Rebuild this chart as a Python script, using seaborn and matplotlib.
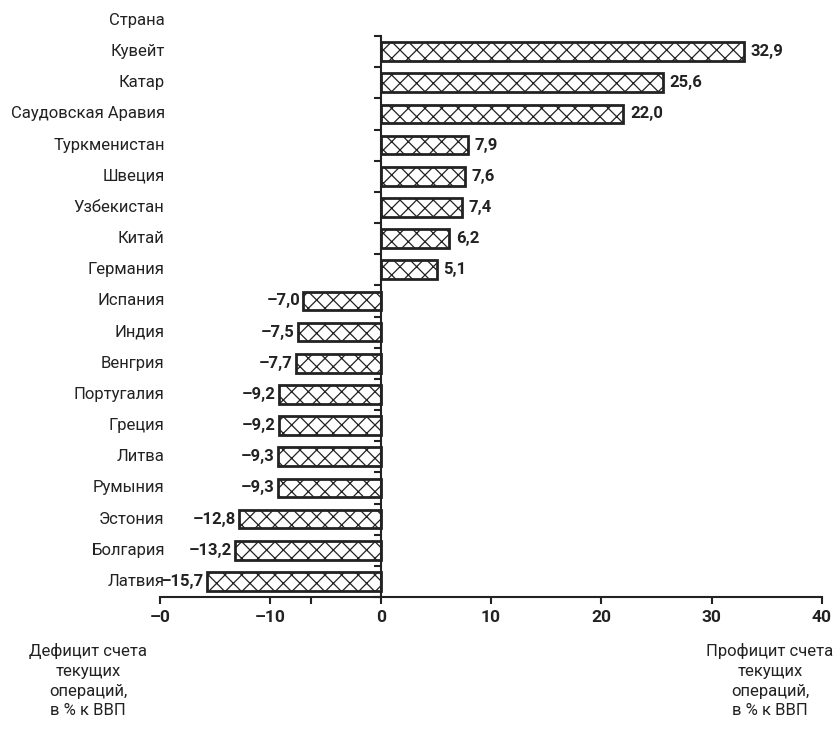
import matplotlib
matplotlib.use("Agg")
import matplotlib.pyplot as plt
import matplotlib.transforms as mtransforms
import seaborn as sns
import pandas as pd

countries = ["Кувейт", "Катар", "Саудовская Аравия", "Туркменистан", "Швеция",
             "Узбекистан", "Китай", "Германия", "Испания", "Индия", "Венгрия",
             "Португалия", "Греция", "Литва", "Румыния", "Эстония", "Болгария", "Латвия"]
values = [32.9, 25.6, 22.0, 7.9, 7.6, 7.4, 6.2, 5.1, -7.0, -7.5, -7.7,
          -9.2, -9.2, -9.3, -9.3, -12.8, -13.2, -15.7]
x_ticks = [-20, -10, 0, 10, 20, 30, 40]
x_tick_labels = ["–0", "–10", "0", "10", "20", "30", "40"]
header = "Страна"
left_note = "Дефицит счета\nтекущих\nопераций,\nв % к ВВП"
right_note = "Профицит счета\nтекущих\nопераций,\nв % к ВВП"

sns.set_style("white")
plt.rcParams["font.family"] = ["Roboto", "DejaVu Sans"]
plt.rcParams["hatch.linewidth"] = 0.9
plt.rcParams["hatch.color"] = "#222222"

df = pd.DataFrame({"country": countries, "value": values})

fig = plt.figure(figsize=(8.36, 7.33), dpi=100)
ax = fig.add_axes([160 / 836, 1 - 597 / 733, 662 / 836, 561 / 733])

sns.barplot(data=df, x="value", y="country", orient="h", color="white",
            edgecolor="#222222", linewidth=2.0, width=0.6, ax=ax,
            saturation=1)
for p in ax.patches:
    p.set_hatch("xx")
    p.set_facecolor("white")

ax.set_xlim(-20, 40)
ax.set_ylim(len(countries) - 0.5, -0.5)

for s in ["top", "right"]:
    ax.spines[s].set_visible(False)
ax.spines["left"].set_position(("data", 0))
for s in ["left", "bottom"]:
    ax.spines[s].set_color("#222222")
    ax.spines[s].set_linewidth(1.5)

ax.set_xticks(x_ticks)
ax.set_xticklabels(x_tick_labels, fontsize=12.5, fontweight="bold", color="#222222")
ax.set_xticks([-6.3], minor=True)
ax.tick_params(axis="x", which="both", direction="out", length=5, width=1.5,
               color="#222222", pad=4, bottom=True)

ax.set_yticks([i - 0.5 for i in range(len(countries) + 1)])
ax.set_yticklabels([])
ax.tick_params(axis="y", direction="out", length=5, width=1.5, color="#222222", left=True)
ax.set_xlabel("")
ax.set_ylabel("")

trans = mtransforms.blended_transform_factory(ax.transAxes, ax.transData)
for i, c in enumerate(countries):
    ax.text(0.007, i, c, transform=trans, ha="right", va="center",
            fontsize=12, color="#222222")
ax.text(0.007, -1, header, transform=trans, ha="right", va="center",
        fontsize=12, color="#222222", clip_on=False)

for i, v in enumerate(values):
    lab = f"{abs(v):.1f}".replace(".", ",")
    if v >= 0:
        ax.text(v + 0.6, i, lab, ha="left", va="center", fontsize=12,
                fontweight="bold", color="#222222")
    else:
        ax.text(v - 0.3, i, "–" + lab, ha="right", va="center", fontsize=12,
                fontweight="bold", color="#222222")

fig.text(88 / 836, 1 - 643 / 733, left_note, ha="center", va="top",
         fontsize=12, color="#222222", linespacing=1.4)
fig.text(770 / 836, 1 - 643 / 733, right_note, ha="center", va="top",
         fontsize=12, color="#222222", linespacing=1.4)

fig.savefig("out.png", dpi=100)
